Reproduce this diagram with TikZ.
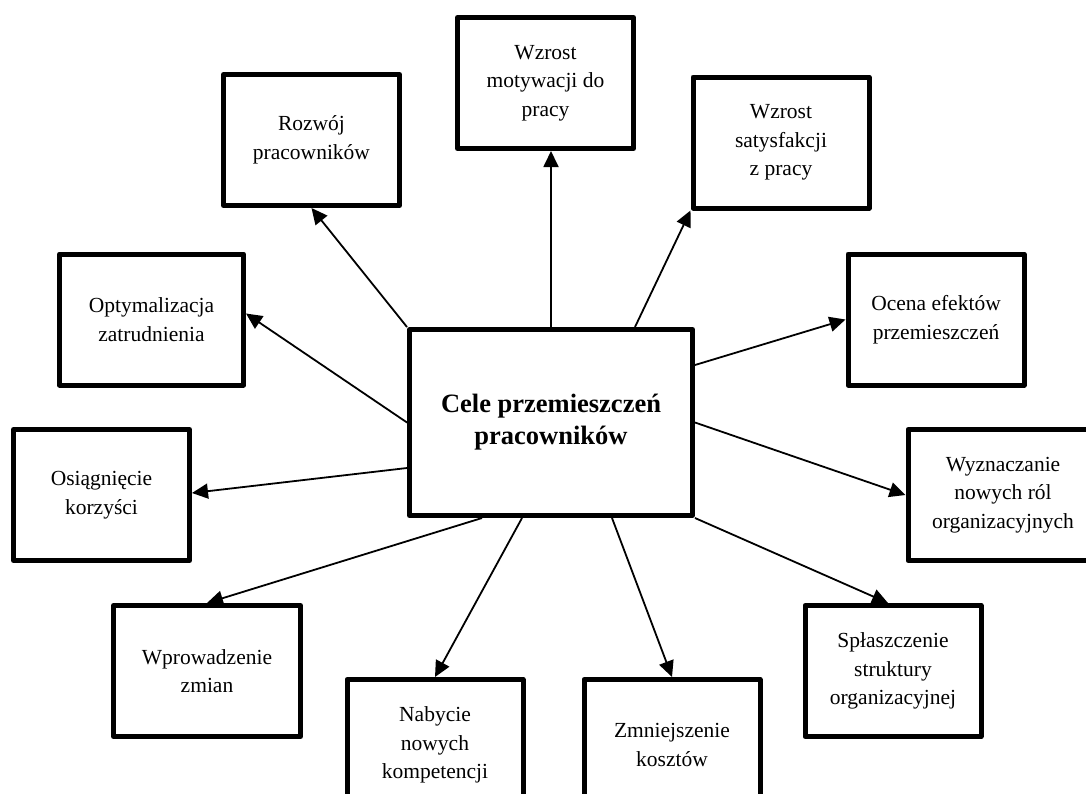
\documentclass[tikz,border=0pt]{standalone}
\usepackage{fontspec}
\setmainfont{Liberation Serif}
\usetikzlibrary{arrows.meta}

\begin{document}
\begin{tikzpicture}[x=1pt,y=-1pt,
  goal/.style={draw, line width=5pt, line join=round, fill=white,
    minimum width=#1, minimum height=131pt, align=center, inner sep=2pt,
    font=\fontsize{21.5}{28.5}\selectfont},
  goal/.default=176pt,
  hub/.style={draw, line width=5pt, line join=round, fill=white,
    minimum width=283pt, minimum height=186pt, align=center,
    font=\bfseries\fontsize{26.5}{32}\selectfont},
  link/.style={line width=1.8pt, -{Triangle[length=16pt,width=15pt]}}
]
\clip (0,0) rectangle (1086,793);

% central node
\node[hub] (c) at (551,422.5) {Cele przemieszczeń\\pracowników};

% surrounding goals
\node[goal]        (motyw) at (545.5,83)  {Wzrost\\motywacji do\\pracy};
\node[goal]        (rozw)  at (311.5,140) {Rozwój\\pracowników};
\node[goal]        (satys) at (781,142.5) {Wzrost\\satysfakcji\\z pracy};
\node[goal=184pt]  (optym) at (151.5,319.5) {Optymalizacja\\zatrudnienia};
\node[goal]        (ocena) at (936,319.5) {Ocena efektów\\przemieszczeń};
\node[goal]        (osiag) at (101.5,495) {Osiągnięcie\\korzyści};
\node[goal=190pt]  (wyzn)  at (1003,495)  {Wyznaczanie\\nowych ról\\organizacyjnych};
\node[goal=187pt]  (wprow) at (207,671)   {Wprowadzenie\\zmian};
\node[goal]        (splas) at (893,671)   {Spłaszczenie\\struktury\\organizacyjnej};
\node[goal]        (nabyc) at (435,745)   {Nabycie\\nowych\\kompetencji};
\node[goal]        (zmnie) at (672,745)   {Zmniejszenie\\kosztów};

% connectors from the central node
\draw[link] (c.north) -- (c.north |- motyw.south);
\draw[link] (c.north west) -- (rozw.south);
\draw[link] ([xshift=84pt]c.north) -- (satys.south west);
\draw[link] (c.west) -- ([yshift=6pt]optym.east);
\draw[link] ([yshift=-45.5pt]c.west) -- ([yshift=2pt]osiag.east);
\draw[link] ([yshift=57.5pt]c.east) -- (ocena.west);
\draw[link] (c.east) -- (wyzn.west);
\draw[link] (c.south east) -- ([xshift=-5pt]splas.north);
\draw[link] ([xshift=61pt]c.south) -- (zmnie.north);
\draw[link] ([xshift=-29pt]c.south) -- (nabyc.north);
\draw[link] ([xshift=-69pt]c.south) -- (wprow.north);
\end{tikzpicture}
\end{document}
